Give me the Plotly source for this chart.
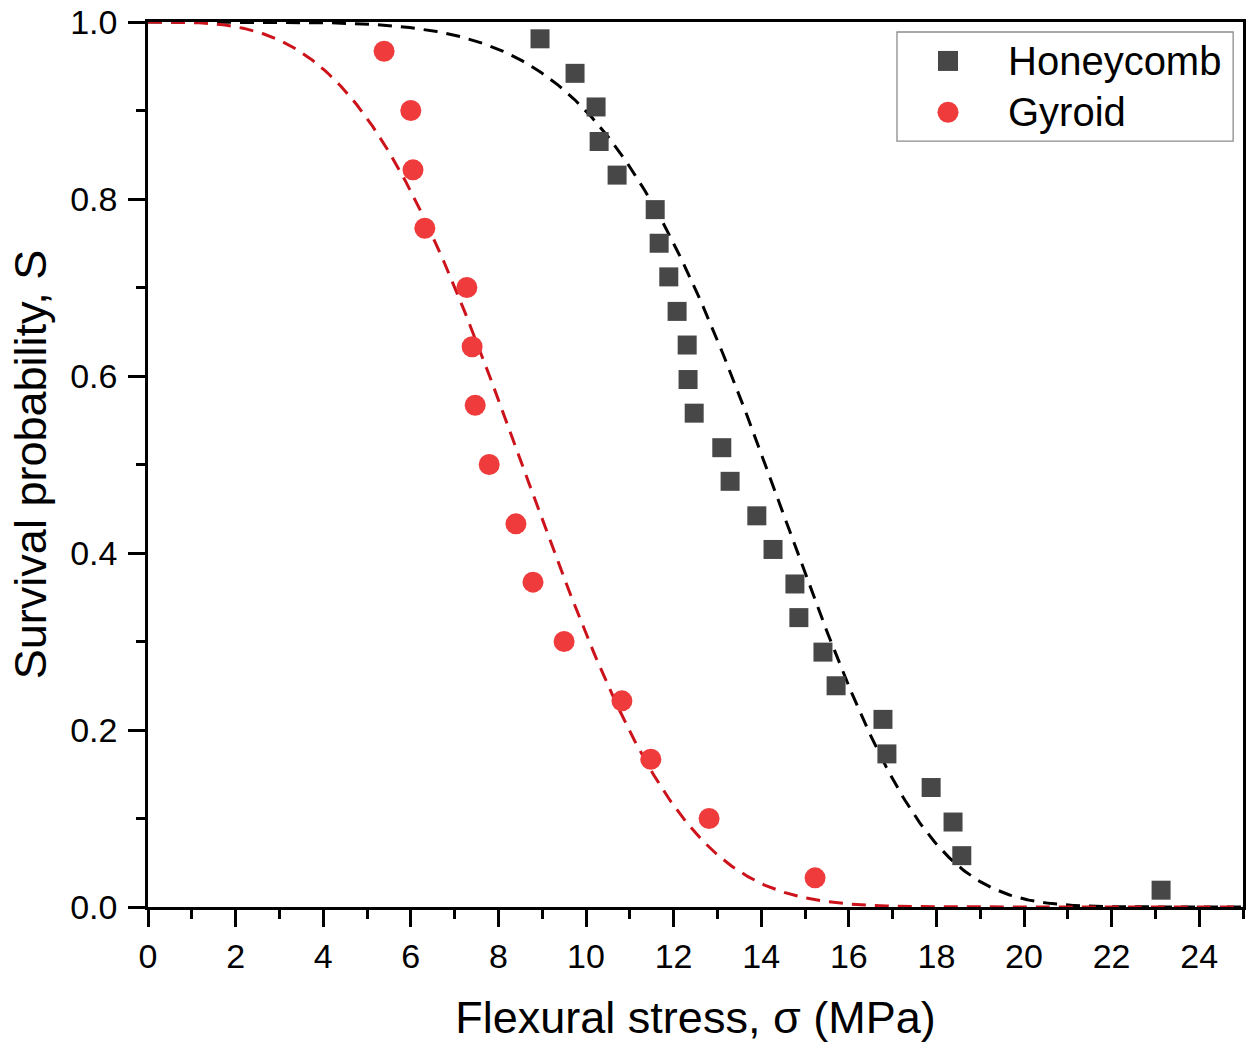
import numpy as np
import plotly.graph_objects as go

# ---- data ----
honeycomb_stress = [8.95, 9.75, 10.23, 10.30, 10.71, 11.58, 11.67, 11.89, 12.08, 12.31,
                    12.33, 12.47, 13.10, 13.29, 13.90, 14.27, 14.77, 14.86, 15.41, 15.71,
                    16.78, 16.87, 17.88, 18.38, 18.58, 23.13]
honeycomb_S = [0.981, 0.942, 0.904, 0.865, 0.827, 0.788, 0.750, 0.712, 0.673, 0.635,
               0.596, 0.558, 0.519, 0.481, 0.442, 0.404, 0.365, 0.327, 0.288, 0.250,
               0.212, 0.173, 0.135, 0.096, 0.058, 0.019]

gyroid_stress = [5.39, 6.00, 6.05, 6.32, 7.28, 7.40, 7.47, 7.79, 8.40, 8.79,
                 9.50, 10.82, 11.48, 12.81, 15.23]
gyroid_S = [0.967, 0.900, 0.833, 0.767, 0.700, 0.633, 0.567, 0.500, 0.433, 0.367,
            0.300, 0.233, 0.167, 0.100, 0.033]

# Weibull fit parameters (scale sigma0, modulus m) estimated from the dashed curves
honeycomb_fit = {"sigma0": 15.07, "m": 5.47}
gyroid_fit = {"sigma0": 9.53, "m": 3.35}

x_ticks = [0, 2, 4, 6, 8, 10, 12, 14, 16, 18, 20, 22, 24]
y_ticks = [0.0, 0.2, 0.4, 0.6, 0.8, 1.0]

series_names = ["Honeycomb", "Gyroid"]

sig = np.linspace(0, 25, 600)
def weibull(s, p):
    return np.exp(-(s / p["sigma0"]) ** p["m"])

SQ_COLOR = "#474747"
CIRC_COLOR = "#EF3B3B"
RED_LINE = "#CC121A"

fig = go.Figure()
fig.add_trace(go.Scatter(x=sig, y=weibull(sig, honeycomb_fit), mode="lines",
                         line=dict(color="black", width=3, dash="14px,9px"),
                         showlegend=False, hoverinfo="skip"))
fig.add_trace(go.Scatter(x=sig, y=weibull(sig, gyroid_fit), mode="lines",
                         line=dict(color=RED_LINE, width=3, dash="14px,9px"),
                         showlegend=False, hoverinfo="skip"))
fig.add_trace(go.Scatter(x=honeycomb_stress, y=honeycomb_S, mode="markers",
                         name=series_names[0], cliponaxis=False,
                         marker=dict(symbol="square", size=19, color=SQ_COLOR,
                                     line=dict(width=0)), showlegend=False))
fig.add_trace(go.Scatter(x=gyroid_stress, y=gyroid_S, mode="markers",
                         name=series_names[1], cliponaxis=False,
                         marker=dict(symbol="circle", size=21, color=CIRC_COLOR,
                                     line=dict(width=0)), showlegend=False))

FONT = "Liberation Sans, Arial, sans-serif"

axis_common = dict(showline=True, linecolor="black", linewidth=2.5, mirror=True,
                   ticks="outside", ticklen=17, tickwidth=2.5, tickcolor="black",
                   showgrid=False, zeroline=False, ticklabeloverflow="allow",
                   tickfont=dict(family=FONT, size=34, color="black"),
                   minor=dict(ticks="outside", ticklen=9, tickwidth=2.5, tickcolor="black"))

fig.update_xaxes(range=[0, 25], tickvals=x_ticks, ticktext=[str(v) for v in x_ticks],
                 minor_dtick=1, minor_tick0=0,
                 title=dict(text="Flexural stress, σ (MPa)",
                            font=dict(family=FONT, size=45, color="black"), standoff=28),
                 **axis_common)
fig.update_yaxes(range=[0, 1], tickvals=y_ticks, ticktext=[f"{v:.1f}" for v in y_ticks],
                 minor_dtick=0.1, minor_tick0=0, ticklabelstandoff=4,
                 title=dict(text="Survival probability, S",
                            font=dict(family=FONT, size=45, color="black"), standoff=10),
                 **axis_common)

# manual legend (paper coordinates of the plot area)
legend_shapes = [
    dict(type="rect", xref="paper", yref="paper", x0=0.684, x1=0.991, y0=0.8655, y1=0.9887,
         line=dict(color="#8c8c8c", width=1.3), fillcolor="white", layer="above"),
    dict(type="rect", xref="paper", yref="paper", xsizemode="pixel", ysizemode="pixel",
         xanchor=0.7306, yanchor=0.956, x0=-10, x1=10, y0=-10, y1=10,
         fillcolor=SQ_COLOR, line=dict(width=0), layer="above"),
    dict(type="circle", xref="paper", yref="paper", xsizemode="pixel", ysizemode="pixel",
         xanchor=0.7306, yanchor=0.898, x0=-10.5, x1=10.5, y0=-10.5, y1=10.5,
         fillcolor=CIRC_COLOR, line=dict(width=0), layer="above"),
]
legend_ann = [
    dict(xref="paper", yref="paper", x=0.7835, y=0.956, text=series_names[0],
         showarrow=False, xanchor="left", yanchor="middle",
         font=dict(family=FONT, size=40, color="black")),
    dict(xref="paper", yref="paper", x=0.7835, y=0.898, text=series_names[1],
         showarrow=False, xanchor="left", yanchor="middle",
         font=dict(family=FONT, size=40, color="black")),
]

fig.update_layout(width=1246, height=1053,
                  margin=dict(l=148, r=3, t=22, b=146, autoexpand=False),
                  plot_bgcolor="white", paper_bgcolor="white",
                  shapes=legend_shapes, annotations=legend_ann,
                  font=dict(family=FONT, color="black"))

# remove the default page margin so the figure sits at the window's top-left corner
fig.write_html("out.html", config={"displayModeBar": False},
               post_script="document.body.style.margin='0';")
